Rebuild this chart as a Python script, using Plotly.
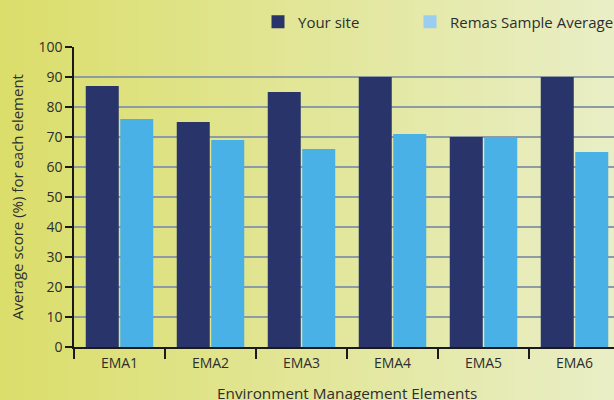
import plotly.graph_objects as go

categories = ["EMA1", "EMA2", "EMA3", "EMA4", "EMA5", "EMA6"]
your_site = [87, 75, 85, 90, 70, 90]
remas_avg = [76, 69, 66, 71, 70, 65]
series_names = ["Your site", "Remas Sample Average"]
x_title = "Environment Management Elements"
y_title = "Average score (%) for each element"
y_ticks = list(range(0, 101, 10))

DARK = "#28346a"
LIGHT = "#49b1e5"
LIGHT_LEGEND = "#9bcdf1"
FONT = "Open Sans"
TXT = "#2e2e2e"

W, H = 614, 400
ML, MR, MT, MB = 74, 0, 47, 53
PW = W - ML - MR
PH = H - MT - MB

fig = go.Figure()
fig.add_trace(go.Bar(x=categories, y=your_site, name=series_names[0],
                     marker=dict(color=DARK, line=dict(width=0)), showlegend=False))
fig.add_trace(go.Bar(x=categories, y=remas_avg, name=series_names[1],
                     marker=dict(color=LIGHT, line=dict(width=0)), showlegend=False))
# legend entries (one legend each so they can be spaced like the original)
fig.add_trace(go.Scatter(x=[categories[0]], y=[None], mode="markers", name=series_names[0],
                         marker=dict(symbol="square", size=13, color=DARK), hoverinfo="skip",
                         legend="legend"))
fig.add_trace(go.Scatter(x=[categories[0]], y=[None], mode="markers", name=series_names[1],
                         marker=dict(symbol="square", size=13, color=LIGHT_LEGEND), hoverinfo="skip",
                         legend="legend2"))

# background gradient (left yellow-green -> right pale)
c0 = (219, 222, 106)
c1 = (233, 238, 198)
N = 80
shapes = []
for i in range(N):
    px0 = W * i / N
    px1 = W * (i + 1) / N + 1
    t = (i + 0.5) / N
    col = tuple(round(c0[k] + (c1[k] - c0[k]) * t) for k in range(3))
    shapes.append(dict(type="rect", xref="paper", yref="paper", layer="below",
                       x0=(px0 - ML) / PW, x1=(px1 - ML) / PW,
                       y0=-0.3, y1=1.3, line=dict(width=0),
                       fillcolor="rgb(%d,%d,%d)" % col))

leg_common = dict(orientation="h", xanchor="left", y=1 + (MT - 22) / PH, yanchor="middle",
                  font=dict(family=FONT, size=15, color=TXT),
                  bgcolor="rgba(0,0,0,0)", itemclick=False, itemdoubleclick=False)

n_vis = PW / 91.0
fig.update_layout(
    width=W, height=H,
    margin=dict(l=ML, r=MR, t=MT, b=MB, autoexpand=False),
    paper_bgcolor="rgb(%d,%d,%d)" % c0,
    plot_bgcolor="rgba(0,0,0,0)",
    font=dict(family=FONT, size=14, color=TXT),
    barmode="group", bargap=0.242, bargroupgap=0.043,
    shapes=shapes,
    legend=dict(x=(258 - ML) / PW, **leg_common),
    legend2=dict(x=(410 - ML) / PW, **leg_common),
    annotations=[dict(text=x_title, xref="paper", yref="paper",
                      x=(347 - ML) / PW, y=-(393 - (MT + PH)) / PH,
                      xanchor="center", yanchor="middle", showarrow=False,
                      font=dict(family=FONT, size=15.3, color=TXT))],
    xaxis=dict(range=[-0.5, -0.5 + n_vis], showline=True, linecolor="#1a1a1a", linewidth=1.5,
               ticks="outside", ticklen=10, tickwidth=1.5, tickcolor="#1a1a1a",
               tickson="boundaries", showgrid=False, ticklabelstandoff=2,
               tickfont=dict(family=FONT, size=14, color=TXT)),
    yaxis=dict(range=[0, 100], tickvals=y_ticks, showline=True, linecolor="#1a1a1a", linewidth=1.5,
               ticks="outside", ticklen=7, tickwidth=1.5, tickcolor="#1a1a1a",
               showgrid=True, gridcolor="#8c9ba6", gridwidth=1.5, zeroline=False,
               tickfont=dict(family=FONT, size=14, color=TXT),
               title=dict(text=y_title, standoff=11,
                          font=dict(family=FONT, size=15, color=TXT))),
)

fig.write_html("out.html", config={"displayModeBar": False},
               post_script="document.body.style.margin='0px';")
